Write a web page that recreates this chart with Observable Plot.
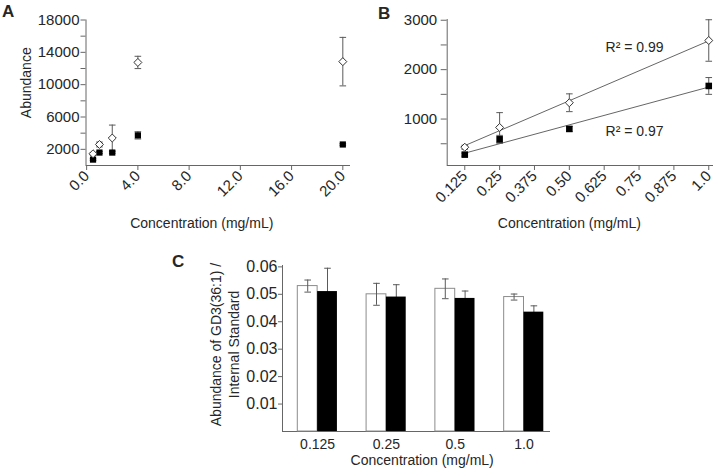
<!DOCTYPE html>
<html>
<head>
<meta charset="utf-8">
<script src="https://cdn.jsdelivr.net/npm/d3@7"></script>
<script src="https://cdn.jsdelivr.net/npm/@observablehq/plot@0.6"></script>
<style>
  body { margin: 0; background: #fff; }
  #fig { position: relative; width: 715px; height: 475px; overflow: hidden; background: #fff;
         font-family: "Liberation Sans", Arial, sans-serif; color: #262626; }
  .panel { position: absolute; }
  .letter { position: absolute; font-weight: bold; font-size: 17px; line-height: 1; }
</style>
</head>
<body>
<div id="fig">
  <div id="pA" class="panel" style="left:0px;top:0px"></div>
  <div id="pB" class="panel" style="left:360px;top:0px"></div>
  <div id="pC" class="panel" style="left:160px;top:240px"></div>
  <div class="letter" style="left:2px;top:3px">A</div>
  <div class="letter" style="left:378px;top:5px">B</div>
  <div class="letter" style="left:172px;top:253px">C</div>
</div>
<script>
// ---------- Panel A data ----------
const A_conc = [0.5, 1, 2, 4, 20];
const A_open = [1450, 2600, 3400, 12750, 12850];
const A_openErr = [150, 300, 1600, 760, 3000];
const A_filled = [730, 1600, 1600, 3730, 2600];
const A_filledErr = [100, 120, 100, 450, 100];
const A_xTicks = [0, 4, 8, 12, 16, 20];
const A_xTickLabels = ["0.0", "4.0", "8.0", "12.0", "16.0", "20.0"];
const A_yTicks = [2000, 4000, 6000, 8000, 10000, 12000, 14000, 16000, 18000];
const A_yTickLabels = [2000, 6000, 10000, 14000, 18000];

// ---------- Panel B data ----------
const B_conc = [0.125, 0.25, 0.5, 1.0];
const B_open = [430, 830, 1330, 2590];
const B_openErr = [40, 300, 180, 420];
const B_filled = [280, 590, 800, 1670];
const B_filledErr = [30, 80, 50, 170];
const B_xTicks = [0.125, 0.25, 0.375, 0.5, 0.625, 0.75, 0.875, 1.0];
const B_xTickLabels = ["0.125", "0.25", "0.375", "0.50", "0.625", "0.75", "0.875", "1.0"];
const B_yTicks = [500, 1000, 1500, 2000, 2500, 3000];
const B_yTickLabels = [1000, 2000, 3000];
const B_r2Labels = ["R\u00B2 = 0.99", "R\u00B2 = 0.97"];

// ---------- Panel C data ----------
const C_cats = ["0.125", "0.25", "0.5", "1.0"];
const C_white = [0.053, 0.050, 0.052, 0.049];
const C_whiteErr = [0.0022, 0.004, 0.0036, 0.0011];
const C_black = [0.051, 0.049, 0.0485, 0.0435];
const C_blackErr = [0.0085, 0.0045, 0.0027, 0.0023];
const C_yTicks = [0.01, 0.02, 0.03, 0.04, 0.05, 0.06];

// ---------- shared styling ----------
const FONT = '"Liberation Sans", Arial, sans-serif';
const AXIS = "#666";
const ERR = "#5a5a5a";
const MARK = "#333";
const TXT = "#262626";
const capSymbol = {
  draw(ctx, size) { const w = Math.sqrt(size / Math.PI); ctx.moveTo(-w, 0); ctx.lineTo(w, 0); }
};
const baseStyle = (fs) => ({ fontFamily: FONT, fontSize: fs, color: TXT, background: "transparent", overflow: "visible" });

function errMarks(data, extra = {}) {
  return [
    Plot.ruleX(data, { x: "x", y1: d => d.y - d.e, y2: d => d.y + d.e, stroke: ERR, strokeWidth: 1, ...extra }),
    Plot.dot(data, { x: "x", y: d => d.y + d.e, symbol: capSymbol, r: 3.3, stroke: ERR, fill: "none", strokeWidth: 1, ...extra }),
    Plot.dot(data, { x: "x", y: d => d.y - d.e, symbol: capSymbol, r: 3.3, stroke: ERR, fill: "none", strokeWidth: 1, ...extra })
  ];
}
const title = (text, opts) => Plot.text([text], { textAnchor: "middle", lineAnchor: "middle", fontSize: 14, fill: TXT, ...opts });

// ---------- Panel A ----------
const A_openData = A_conc.map((x, i) => ({ x, y: A_open[i], e: A_openErr[i] }));
const A_filledData = A_conc.map((x, i) => ({ x, y: A_filled[i], e: A_filledErr[i] }));
const A_xDomain = [-0.05, 20.6];

const plotA = Plot.plot({
  width: 360, height: 240,
  marginLeft: 85.5, marginRight: 10, marginTop: 19.5, marginBottom: 75,
  style: baseStyle("15px"),
  x: { domain: A_xDomain },
  y: { domain: [0, 18000] },
  marks: [
    Plot.axisY({ ticks: A_yTicks, tickFormat: d => A_yTickLabels.includes(d) ? String(d) : "",
                 tickSize: 5, tickPadding: 1.5, label: null, stroke: AXIS }),
    Plot.axisX({ ticks: A_xTicks, tickFormat: d => A_xTickLabels[A_xTicks.indexOf(d)],
                 tickRotate: -45, tickSize: 5, tickPadding: 3, label: null, stroke: AXIS }),
    Plot.ruleX([A_xDomain[0]], { stroke: AXIS }),
    Plot.ruleY([0], { stroke: AXIS }),
    ...errMarks(A_openData),
    ...errMarks(A_filledData),
    Plot.dot(A_filledData, { x: "x", y: "y", symbol: "square", r: 3.5, fill: "#000", stroke: "none" }),
    Plot.dot(A_openData, { x: "x", y: "y", symbol: "diamond2", r: 3.6, fill: "#fff", stroke: MARK, strokeWidth: 1 }),
    title("Abundance", { frameAnchor: "left", dx: -59.5, dy: -10, rotate: -90 }),
    title("Concentration (mg/mL)", { frameAnchor: "bottom", dx: -16.5, dy: 58 })
  ]
});
document.getElementById("pA").append(plotA);

// ---------- Panel B ----------
const B_openData = B_conc.map((x, i) => ({ x, y: B_open[i], e: B_openErr[i] }));
const B_filledData = B_conc.map((x, i) => ({ x, y: B_filled[i], e: B_filledErr[i] }));
const B_xDomain = [0.062, 1.017];
const B_yDomain = [60, 3015];
const B_r2Data = [
  { x: 0.63, y: 2450, label: B_r2Labels[0] },
  { x: 0.63, y: 750, label: B_r2Labels[1] }
];

const plotB = Plot.plot({
  width: 355, height: 240,
  marginLeft: 86.7, marginRight: 2, marginTop: 19, marginBottom: 75,
  style: baseStyle("15px"),
  x: { domain: B_xDomain },
  y: { domain: B_yDomain },
  marks: [
    Plot.axisY({ ticks: B_yTicks, tickFormat: d => B_yTickLabels.includes(d) ? String(d) : "",
                 tickSize: 6, tickPadding: 4, label: null, stroke: AXIS }),
    Plot.axisX({ ticks: B_xTicks, tickFormat: d => B_xTickLabels[B_xTicks.indexOf(d)],
                 tickRotate: -45, tickSize: 5, tickPadding: 3, label: null, stroke: AXIS }),
    Plot.ruleX([B_xDomain[0]], { stroke: AXIS }),
    Plot.ruleY([B_yDomain[0]], { stroke: AXIS }),
    Plot.linearRegressionY(B_openData, { x: "x", y: "y", ci: 0, stroke: "#666", strokeWidth: 1 }),
    Plot.linearRegressionY(B_filledData, { x: "x", y: "y", ci: 0, stroke: "#666", strokeWidth: 1 }),
    ...errMarks(B_openData),
    ...errMarks(B_filledData),
    Plot.dot(B_filledData, { x: "x", y: "y", symbol: "square", r: 3.7, fill: "#000", stroke: "none" }),
    Plot.dot(B_openData, { x: "x", y: "y", symbol: "diamond2", r: 3.6, fill: "#fff", stroke: MARK, strokeWidth: 1 }),
    Plot.text(B_r2Data, { x: "x", y: "y", text: "label", textAnchor: "start", fontSize: 14, fill: TXT }),
    title("Concentration (mg/mL)", { frameAnchor: "bottom", dx: -11, dy: 58 })
  ]
});
document.getElementById("pB").append(plotB);

// ---------- Panel C ----------
const C_whiteData = C_cats.map((x, i) => ({ x, y: C_white[i], e: C_whiteErr[i] }));
const C_blackData = C_cats.map((x, i) => ({ x, y: C_black[i], e: C_blackErr[i] }));
const halfBand = 19.8;

const plotC = Plot.plot({
  width: 420, height: 235,
  marginLeft: 122, marginRight: 30, marginTop: 25, marginBottom: 44,
  style: baseStyle("14px"),
  x: { type: "band", domain: C_cats, range: [137.3, 383.3], paddingInner: 0.424, paddingOuter: 0, align: 0.5, round: false },
  y: { domain: [0, 0.0605] },
  marks: [
    Plot.axisY({ ticks: C_yTicks, tickFormat: d => d.toFixed(2), tickSize: 4, tickPadding: 1,
                 label: null, stroke: AXIS, fontSize: 16 }),
    Plot.axisX({ tickSize: 0, tickPadding: 8, label: null, fontSize: 14 }),
    Plot.frame({ anchor: "left", stroke: AXIS }),
    Plot.ruleY([0], { stroke: AXIS }),
    Plot.barY(C_whiteData, { x: "x", y: "y", fill: "#fff", stroke: "#8c8c8c", strokeWidth: 1, insetRight: halfBand }),
    ...errMarks(C_whiteData, { dx: -halfBand / 2 }),
    ...errMarks(C_blackData, { dx: halfBand / 2 }),
    Plot.barY(C_blackData, { x: "x", y: "y", fill: "#000", insetLeft: halfBand }),
    title("Abundance of GD3(36:1) /\nInternal Standard", { frameAnchor: "left", dx: -58, dy: -4, rotate: -90, lineHeight: 1.29 }),
    title("Concentration (mg/mL)", { frameAnchor: "bottom", dx: 5.7, dy: 29.5 })
  ]
});
document.getElementById("pC").append(plotC);
</script>
</body>
</html>
